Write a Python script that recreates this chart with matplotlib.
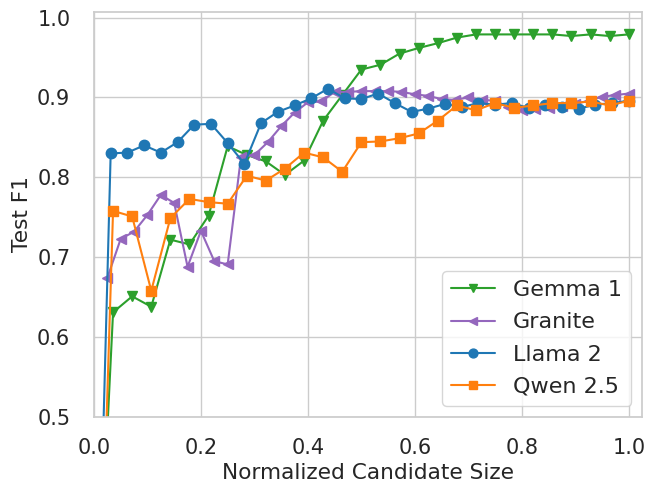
import matplotlib
matplotlib.use("Agg")
import matplotlib.pyplot as plt
import seaborn as sns

sns.set_theme(style="whitegrid", font_scale=1.3)

# normalized candidate sizes (each model has its own step)
x_gemma = [0.015] + [k / 28 for k in range(1, 29)]
x_granite = [k / 40 for k in range(1, 41)]
x_llama = [0.015] + [k / 32 for k in range(1, 33)]
x_qwen = [0.015] + [k / 28 for k in range(1, 29)]

gemma = [0.347, 0.631, 0.651, 0.638, 0.722, 0.716, 0.752, 0.839, 0.828, 0.820,
         0.803, 0.821, 0.871, 0.903, 0.935, 0.941, 0.955, 0.962, 0.968, 0.975,
         0.979, 0.979, 0.979, 0.979, 0.979, 0.977, 0.979, 0.977, 0.979]
granite = [0.674, 0.723, 0.732, 0.753, 0.778, 0.768, 0.688, 0.733, 0.695, 0.691,
           0.826, 0.828, 0.844, 0.864, 0.881, 0.894, 0.895, 0.907, 0.907, 0.908,
           0.908, 0.908, 0.907, 0.904, 0.902, 0.898, 0.897, 0.900, 0.897, 0.896,
           0.888, 0.884, 0.886, 0.887, 0.889, 0.892, 0.896, 0.901, 0.903, 0.905]
llama = [0.421, 0.830, 0.831, 0.840, 0.831, 0.844, 0.866, 0.867, 0.843, 0.817,
         0.868, 0.882, 0.890, 0.899, 0.911, 0.899, 0.898, 0.905, 0.893, 0.882,
         0.886, 0.892, 0.888, 0.893, 0.891, 0.893, 0.887, 0.890, 0.888, 0.886,
         0.891, 0.893, 0.896]
qwen = [0.313, 0.758, 0.751, 0.658, 0.749, 0.773, 0.769, 0.767, 0.802, 0.796,
        0.811, 0.831, 0.825, 0.807, 0.844, 0.845, 0.849, 0.855, 0.871, 0.890,
        0.884, 0.893, 0.887, 0.890, 0.893, 0.893, 0.895, 0.890, 0.896]

fig, ax = plt.subplots(figsize=(6.48, 4.82), dpi=100)
ms = 7.5
ax.plot(x_gemma, gemma, marker="v", ms=ms, color="tab:green", label="Gemma 1")
ax.plot(x_granite, granite, marker="<", ms=ms, color="tab:purple", label="Granite")
ax.plot(x_llama, llama, marker="o", ms=ms, color="tab:blue", label="Llama 2")
ax.plot(x_qwen, qwen, marker="s", ms=ms, color="tab:orange", label="Qwen 2.5")

ax.set_xlim(0, 1.025)
ax.set_ylim(0.5, 1.007)
ax.tick_params(axis="both", labelsize=15)
ax.tick_params(axis="x", pad=9)
ax.tick_params(axis="y", pad=11)
ax.set_xlabel("Normalized Candidate Size", fontsize=15.6)
ax.set_ylabel("Test F1", fontsize=15.6)
ax.legend(loc="lower right", fontsize=16, markerscale=0.85, labelspacing=0.55)

plt.subplots_adjust(left=0.145, right=0.991, top=0.975, bottom=0.135)
plt.savefig("out.png")
